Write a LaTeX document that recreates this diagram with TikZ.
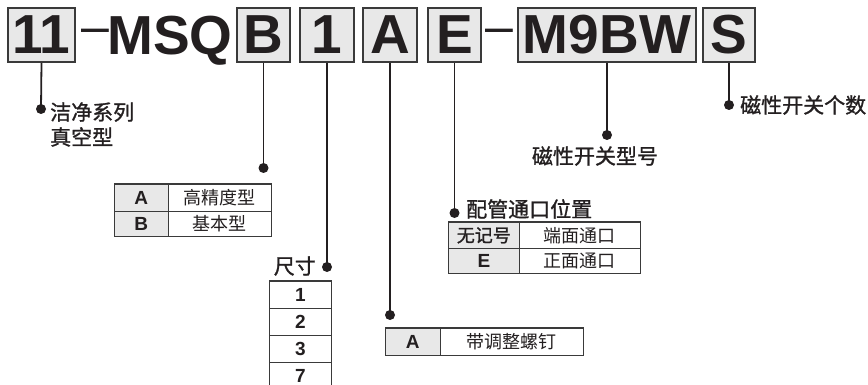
\documentclass[tikz,border=0pt]{standalone}
\usepackage{fontspec}
\setmainfont{Liberation Sans}
\newfontfamily\cjk{Noto Sans CJK SC}
\newfontfamily\cjkb[FakeBold=1.2]{Noto Sans CJK SC}
\definecolor{ink}{HTML}{231F20}
\definecolor{boxfill}{HTML}{E8E8E8}
\definecolor{rule}{HTML}{3A3A3A}
\begin{document}
\begin{tikzpicture}[x=1pt,y=-1pt,
  codebox/.style={draw=rule,line width=1.6pt,fill=boxfill,inner sep=0pt,minimum height=54pt,font=\fontsize{55}{55}\selectfont\bfseries,text=ink},
  dashtxt/.style={font=\fontsize{50}{50}\selectfont,text=ink,inner sep=0pt,anchor=base},
  lead/.style={draw=ink,line width=1.8pt},
  dot/.style={circle,fill=ink,inner sep=0pt,minimum size=10pt},
  lbl/.style={font=\cjkb\fontsize{21}{25}\selectfont,text=ink,inner sep=0pt},
  cellg/.style={draw=rule,line width=0.7pt,fill=boxfill,inner sep=0pt,font=\fontsize{19}{19}\selectfont\bfseries,text=ink},
  cellw/.style={draw=rule,line width=0.7pt,fill=white,inner sep=0pt,font=\cjk\fontsize{18}{18}\selectfont,text=ink},
  cellwb/.style={draw=rule,line width=0.7pt,fill=white,inner sep=0pt,font=\fontsize{19}{19}\selectfont\bfseries,text=ink},
  toprule/.style={draw=rule,line width=1.6pt}
]
\useasboundingbox (0,0) rectangle (868,385);
% top code boxes
\node[codebox,minimum width=67pt] (b11) at (41.5,35) {11};
\node[dashtxt] (dash1) at (95,44) {–};
\node[font=\fontsize{55}{55}\selectfont\bfseries,text=ink,inner sep=0pt,anchor=base] (msq) at (170,55) {MSQ};
\node[codebox,minimum width=53pt] (bB) at (263.5,35) {B};
\node[codebox,minimum width=54pt] (b1) at (327,35) {1};
\node[codebox,minimum width=54pt] (bA) at (390,35) {A};
\node[codebox,minimum width=53pt] (bE) at (454.5,35) {E};
\node[dashtxt] (dash2) at (499,44) {–};
\node[codebox,minimum width=178pt] (bM) at (607,35) {M9BW};
\node[codebox,minimum width=52pt] (bS) at (729,35) {S};

% dots
\node[dot] (d11) at (41,109) {};
\node[dot] (dB) at (263.5,168) {};
\node[dot] (d1) at (327,267) {};
\node[dot] (dA) at (390,315) {};
\node[dot] (dE) at (454.5,213) {};
\node[dot] (dM) at (607,135) {};
\node[dot] (dS) at (729,105) {};

% leads
\draw[lead] (b11.south) -- (d11.center);
\draw[lead] (bB.south) -- (dB.center);
\draw[lead] (b1.south) -- (d1.center);
\draw[lead] (bA.south) -- (dA.center);
\draw[lead] (bE.south) -- (dE.center);
\draw[lead] (bM.south) -- (dM.center);
\draw[lead] (bS.south) -- (dS.center);

% labels
\node[lbl,anchor=west,align=left] (l11) at (50,124.5) {洁净系列\\真空型};
\node[lbl,anchor=east] (l1) at (316,266) {尺寸};
\node[lbl,anchor=west] (lE) at (466,209) {配管通口位置};
\node[lbl] (lM) at (595,156) {磁性开关型号};
\node[lbl,anchor=west] (lS) at (740,105) {磁性开关个数};

% table B
\node[cellg,minimum width=54pt,minimum height=27pt,anchor=north west] (tBa1) at (114,184) {A};
\node[cellw,minimum width=103pt,minimum height=27pt,anchor=north west] (tBa2) at (168,184) {高精度型};
\node[cellg,minimum width=54pt,minimum height=25pt,anchor=north west] (tBb1) at (114,211) {B};
\node[cellw,minimum width=103pt,minimum height=25pt,anchor=north west] (tBb2) at (168,211) {基本型};
\draw[toprule] (tBa1.north west) -- (tBa2.north east);

% table size
\node[cellwb,minimum width=62pt,minimum height=27pt,anchor=north west] (tS1) at (269,281) {1};
\node[cellwb,minimum width=62pt,minimum height=27pt,anchor=north west] (tS2) at (269,308) {2};
\node[cellwb,minimum width=62pt,minimum height=27pt,anchor=north west] (tS3) at (269,335) {3};
\node[cellwb,minimum width=62pt,minimum height=27pt,anchor=north west] (tS7) at (269,362) {7};
\draw[toprule] (tS1.north west) -- (tS1.north east);

% table A
\node[cellg,minimum width=55pt,minimum height=27pt,anchor=north west] (tAa1) at (385,328) {A};
\node[cellw,minimum width=143pt,minimum height=27pt,anchor=north west] (tAa2) at (440,328) {带调整螺钉};
\draw[toprule] (tAa1.north west) -- (tAa2.north east);

% table E
\node[cellg,minimum width=71pt,minimum height=26pt,anchor=north west,font=\cjkb\fontsize{18}{18}\selectfont] (tEa1) at (448,222) {无记号};
\node[cellw,minimum width=121pt,minimum height=26pt,anchor=north west] (tEa2) at (519,222) {端面通口};
\node[cellg,minimum width=71pt,minimum height=25pt,anchor=north west] (tEb1) at (448,248) {E};
\node[cellw,minimum width=121pt,minimum height=25pt,anchor=north west] (tEb2) at (519,248) {正面通口};
\draw[toprule] (tEa1.north west) -- (tEa2.north east);
\end{tikzpicture}
\end{document}
